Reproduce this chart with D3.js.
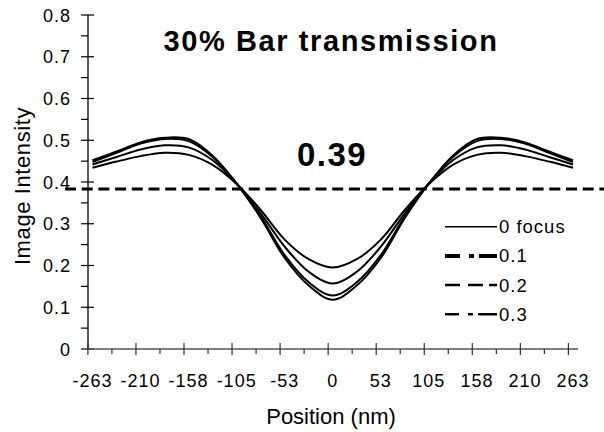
<!DOCTYPE html>
<html>
<head>
<meta charset="utf-8">
<script src="https://cdn.jsdelivr.net/npm/d3@7"></script>
<style>
  body { margin: 0; background: #fff; }
  svg { display: block; font-family: "Liberation Sans", Arial, sans-serif; }
</style>
</head>
<body>
<svg id="chart"></svg>
<script>
// Positions along the bar (nm)
const positions = [-263, -236.7, -210.4, -184.1, -157.8, -131.5, -105.2, -78.9, -52.6, -26.3, 0,
                   26.3, 52.6, 78.9, 105.2, 131.5, 157.8, 184.1, 210.4, 236.7, 263];

// Image intensity for each defocus value
const focus0 = [0.452, 0.473, 0.495, 0.506, 0.503, 0.463, 0.396, 0.314, 0.218, 0.152, 0.118,
                0.152, 0.218, 0.314, 0.396, 0.463, 0.503, 0.506, 0.495, 0.473, 0.452];
const defocus01 = [0.448, 0.470, 0.492, 0.503, 0.498, 0.460, 0.397, 0.318, 0.225, 0.160, 0.128,
                   0.160, 0.225, 0.318, 0.397, 0.460, 0.498, 0.503, 0.492, 0.470, 0.448];
const defocus02 = [0.442, 0.460, 0.478, 0.488, 0.483, 0.452, 0.396, 0.325, 0.245, 0.185, 0.157,
                   0.185, 0.245, 0.325, 0.396, 0.452, 0.483, 0.488, 0.478, 0.460, 0.442];
const defocus03 = [0.434, 0.449, 0.462, 0.470, 0.465, 0.441, 0.395, 0.333, 0.262, 0.215, 0.195,
                   0.215, 0.262, 0.333, 0.395, 0.441, 0.465, 0.470, 0.462, 0.449, 0.434];

const seriesNames = ["0 focus", "0.1", "0.2", "0.3"];
const seriesValues = [focus0, defocus01, defocus02, defocus03];

// Axis ticks
const xTickValues = [-263, -210.4, -157.8, -105.2, -52.6, 0, 52.6, 105.2, 157.8, 210.4, 263];
const xTickLabels = ["-263", "-210", "-158", "-105", "-53", "0", "53", "105", "158", "210", "263"];
const yTickValues = [0, 0.1, 0.2, 0.3, 0.4, 0.5, 0.6, 0.7, 0.8];

// Isofocal threshold
const thresholdValue = 0.383;
const thresholdLabel = "0.39";

class IntensityChart {
  constructor(_config) {
    this.config = {
      parentElement: _config.parentElement,
      containerWidth: 604,
      containerHeight: 432,
      xRange: [92.5, 573],
      yRange: [349, 15],
      axisX: 88,
      axisEnd: 578,
      tickShift: -4.6,
      legend: { x1: 445, x2: 497, y: 226.7, step: 29.2 },
    };
    this.initVis();
  }

  initVis() {
    const vis = this;
    const c = vis.config;

    vis.svg = d3.select(c.parentElement)
      .attr("width", c.containerWidth)
      .attr("height", c.containerHeight);

    vis.xScale = d3.scaleLinear().domain([-263, 263]).range(c.xRange);
    vis.yScale = d3.scaleLinear().domain([0, 0.8]).range(c.yRange);

    vis.renderVis();
  }

  renderVis() {
    const vis = this;
    const c = vis.config;
    const x = vis.xScale, y = vis.yScale;
    const y0 = y(0);

    // y axis
    vis.svg.append("line")
      .attr("x1", c.axisX).attr("x2", c.axisX)
      .attr("y1", y(0.8)).attr("y2", y0)
      .attr("stroke", "#000").attr("stroke-width", 1.3);

    const yMinor = yTickValues.slice(1).map(d => d - 0.05);
    vis.svg.append("g").selectAll("line").data(yTickValues).join("line")
      .attr("x1", c.axisX - 7).attr("x2", c.axisX + 6)
      .attr("y1", d => y(d)).attr("y2", d => y(d))
      .attr("stroke", "#000").attr("stroke-width", 1.2);
    vis.svg.append("g").selectAll("line").data(yMinor).join("line")
      .attr("x1", c.axisX - 7).attr("x2", c.axisX)
      .attr("y1", d => y(d)).attr("y2", d => y(d))
      .attr("stroke", "#000").attr("stroke-width", 1.2);

    vis.svg.append("g").selectAll("text").data(yTickValues).join("text")
      .attr("x", c.axisX - 17)
      .attr("y", d => y(d) + 6.5)
      .attr("text-anchor", "end")
      .style("font-size", "18px")
      .style("letter-spacing", "1px")
      .text(d => d === 0 ? "0" : d3.format(".1f")(d));

    // x axis
    vis.svg.append("line")
      .attr("x1", c.axisX).attr("x2", c.axisEnd)
      .attr("y1", y0).attr("y2", y0)
      .attr("stroke", "#555").attr("stroke-width", 1.3);

    const xMinor = xTickValues.slice(1).map((d, i) => (d + xTickValues[i]) / 2);
    vis.svg.append("g").selectAll("line").data(xTickValues).join("line")
      .attr("x1", d => x(d) + c.tickShift).attr("x2", d => x(d) + c.tickShift)
      .attr("y1", y0 - 6).attr("y2", y0 + 6)
      .attr("stroke", "#333").attr("stroke-width", 1.2);
    vis.svg.append("g").selectAll("line").data(xMinor).join("line")
      .attr("x1", d => x(d) + c.tickShift).attr("x2", d => x(d) + c.tickShift)
      .attr("y1", y0).attr("y2", y0 + 5)
      .attr("stroke", "#333").attr("stroke-width", 1.2);

    vis.svg.append("g").selectAll("text").data(xTickValues).join("text")
      .attr("x", d => x(d))
      .attr("y", 386.5)
      .attr("text-anchor", "middle")
      .style("font-size", "18px")
      .style("letter-spacing", "1px")
      .text((d, i) => xTickLabels[i]);

    // Axis titles
    vis.svg.append("text")
      .attr("x", 331).attr("y", 424)
      .attr("text-anchor", "middle")
      .style("font-size", "22px")
      .text("Position (nm)");

    vis.svg.append("text")
      .attr("transform", "translate(29.5,186) rotate(-90)")
      .attr("text-anchor", "middle")
      .style("font-size", "22px")
      .style("letter-spacing", "0.6px")
      .text("Image Intensity");

    // Title and threshold label
    vis.svg.append("text")
      .attr("x", 331).attr("y", 50.7)
      .attr("text-anchor", "middle")
      .style("font-size", "29px")
      .style("font-weight", "bold")
      .style("letter-spacing", "1.6px")
      .text("30% Bar transmission");

    vis.svg.append("text")
      .attr("x", 332).attr("y", 165.7)
      .attr("text-anchor", "middle")
      .style("font-size", "33px")
      .style("font-weight", "bold")
      .style("letter-spacing", "1.4px")
      .text(thresholdLabel);

    // Curves
    const line = d3.line()
      .x((d, i) => x(positions[i]))
      .y(d => y(d))
      .curve(d3.curveCatmullRom.alpha(0.5));

    vis.svg.append("g").selectAll("path").data(seriesValues).join("path")
      .attr("d", d => line(d))
      .attr("fill", "none")
      .attr("stroke", "#000")
      .attr("stroke-width", 2);

    // Threshold dashed line
    vis.svg.append("line")
      .attr("x1", 65).attr("x2", c.containerWidth)
      .attr("y1", y(thresholdValue)).attr("y2", y(thresholdValue))
      .attr("stroke", "#000")
      .attr("stroke-width", 3)
      .attr("stroke-dasharray", "11,5.7");

    // Legend
    const legendStyles = [
      { width: 1.5, dash: null },
      { width: 4, dash: "15,9,5,5,18,100" },
      { width: 2.5, dash: "15,8,15,6,8,100" },
      { width: 2.5, dash: "14,9,5,5,19,100" },
    ];
    const lg = c.legend;
    const items = vis.svg.append("g").selectAll("g").data(seriesNames).join("g")
      .attr("transform", (d, i) => `translate(0,${lg.y + i * lg.step})`);
    items.append("line")
      .attr("x1", lg.x1).attr("x2", lg.x2)
      .attr("stroke", "#000")
      .attr("stroke-width", (d, i) => legendStyles[i].width)
      .attr("stroke-dasharray", (d, i) => legendStyles[i].dash);
    items.append("text")
      .attr("x", lg.x2 + 2).attr("y", 6.5)
      .style("font-size", "18.5px")
      .style("letter-spacing", "1px")
      .text(d => d);
  }
}

new IntensityChart({ parentElement: "#chart" });
</script>
</body>
</html>
